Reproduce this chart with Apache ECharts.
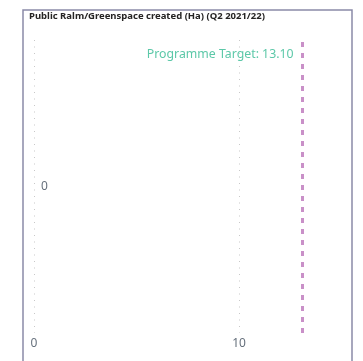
<!DOCTYPE html>
<html><head><meta charset="utf-8">
<script src="https://cdn.jsdelivr.net/npm/echarts@6/dist/echarts.min.js"></script>
<style>html,body{margin:0;padding:0;background:#fff}#c{width:363px;height:361px}</style>
</head><body><div id="c"></div>
<script>
const titleText = 'Public Ralm/Greenspace created (Ha) (Q2 2021/22)';
const categories = ['Public Realm'];
const values = [0];
const targetValue = 13.10;
const targetLabel = 'Programme Target: ';

const chart = echarts.init(document.getElementById('c'), null, {renderer:'canvas'});
chart.setOption({
  animation:false,
  textStyle:{fontFamily:'Noto Sans'},
  graphic:[
    {type:'rect', shape:{x:23, y:10, width:329, height:360}, style:{fill:'none', stroke:'#8a8aa8', lineWidth:1.5}},
    {type:'text', left:29, top:11, style:{text:titleText, font:'bold 9.5px "Noto Sans"', fill:'#252423'}}
  ],
  grid:{left:34, top:40, width:410, height:293, containLabel:false, outerBoundsMode:'none'},
  xAxis:{type:'value', min:0, max:20, interval:10,
    axisLine:{show:false}, axisTick:{show:false},
    axisLabel:{color:'#66707c', fontSize:12, margin:5, fontFamily:'Noto Sans'},
    splitLine:{show:true, lineStyle:{color:'#c8c8c8', type:[1,5.5], width:1}}},
  yAxis:{type:'category', data:categories, show:false},
  series:[{
    type:'bar', data:values, barWidth:'60%',
    itemStyle:{color:'#118DFF'},
    label:{show:true, position:'right', distance:7, color:'#66707c', fontSize:12, fontFamily:'Noto Sans'},
    markLine:{
      symbol:'none', silent:true,
      lineStyle:{color:'#c990c8', type:[5,6], width:3},
      label:{show:true, position:'end', align:'right', verticalAlign:'middle', offset:[-9, 19],
        formatter: p => targetLabel + p.value.toFixed(2),
        color:'#5cc8a8', fontSize:12.3, fontFamily:'Noto Sans'},
      data:[{xAxis:targetValue}]
    }
  }]
});
</script></body></html>
